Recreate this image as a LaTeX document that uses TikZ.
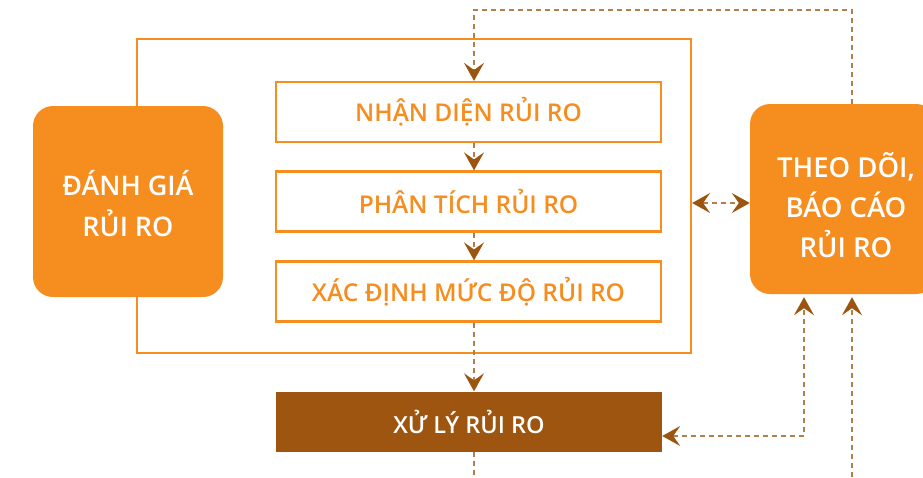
\documentclass[tikz,border=0pt]{standalone}
\usepackage{fontspec}
\setmainfont{Open Sans}[BoldFont={Open Sans Semibold}]
\usetikzlibrary{arrows.meta}
\definecolor{orng}{HTML}{F58D1F}
\definecolor{brwn}{HTML}{9D550F}
\definecolor{dashc}{HTML}{B07F4D}
\definecolor{tipc}{HTML}{9C5511}
\begin{document}
\begin{tikzpicture}[x=1pt,y=-1pt,
  framebox/.style={draw=orng, line width=2.2pt, inner sep=0pt},
  stepbox/.style={draw=orng, line width=2.2pt, fill=white, minimum width=385pt, minimum height=60pt, inner sep=0pt, text=orng, font=\bfseries\fontsize{24.5}{28}\selectfont},
  bigbox/.style={fill=orng, rounded corners=20pt, inner sep=0pt},
  bigtext/.style={text=white, align=center, inner sep=0pt},
  treatbox/.style={fill=brwn, minimum width=386pt, minimum height=60pt, inner sep=0pt, text=white, font=\bfseries\fontsize{23.5}{28}\selectfont},
  conn/.style={draw=dashc, line width=1.4pt, dash pattern=on 5pt off 4pt},
  tip/.tip={Stealth[length=18pt,width=20pt,inset=7pt,color=tipc]}
]
\useasboundingbox (0,0) rectangle (923,477);
\node[framebox, minimum width=554pt, minimum height=314pt] (frame) at (414,196) {};
\node[bigbox, minimum width=190pt, minimum height=191pt] (assess) at (128,201.5) {};
\node[bigtext, font=\bfseries\fontsize{27}{41}\selectfont] (assesstext) at (128,203.5) {ĐÁNH GIÁ\\RỦI RO};
\node[stepbox] (box1) at (468.5,112) {NHẬN DIỆN RỦI RO};
\node[stepbox] (box2) at (468.5,201.5) {PHÂN TÍCH RỦI RO};
\node[stepbox] (box3) at (468.5,291.5) {XÁC ĐỊNH MỨC ĐỘ RỦI RO};
\node[treatbox] (treat) at (469,421.5) {XỬ LÝ RỦI RO};
\node[bigbox, minimum width=186pt, minimum height=190pt] (monitor) at (843,199) {};
\node[bigtext, font=\bfseries\fontsize{27.5}{40}\selectfont] (monitortext) at (846,205) {THEO DÕI,\\BÁO CÁO\\RỦI RO};
\coordinate (cx) at (474,0);
\coordinate (lx) at (852,0);
\coordinate (mx) at (804,0);
\coordinate (topy) at (0,10);
\coordinate (boty) at (0,477);
\coordinate (ry) at (0,203);
\coordinate (ty) at (0,436);
\draw[conn, -{tip}] (monitor.north -| lx) |- (topy -| cx) -- (box1.north -| cx);
\draw[conn, -{tip}] (box1.south -| cx) -- (box2.north -| cx);
\draw[conn, -{tip}] (box2.south -| cx) -- (box3.north -| cx);
\draw[conn, -{tip}] (box3.south -| cx) -- (treat.north -| cx);
\draw[conn] (treat.south -| cx) -- (boty -| cx);
\draw[conn, {tip}-{tip}] (frame.east |- ry) -- (monitor.west |- ry);
\draw[conn, {tip}-{tip}, shorten >=3pt] (treat.east |- ty) -| (monitor.south -| mx);
\draw[conn, -{tip}, shorten >=3pt] (boty -| lx) -- (monitor.south -| lx);
\end{tikzpicture}
\end{document}
